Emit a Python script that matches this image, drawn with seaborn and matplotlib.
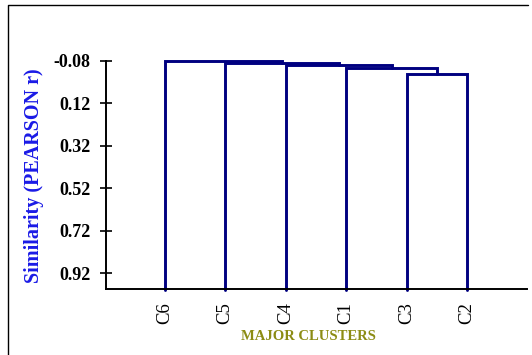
import numpy as np
import pandas as pd
import matplotlib
matplotlib.use("Agg")
import matplotlib.pyplot as plt
from matplotlib.lines import Line2D
import seaborn as sns

# Leaf order along the x axis and the successive merges (left child, right child, height)
leaves = ["C6", "C5", "C4", "C1", "C3", "C2"]
merge_left = ["C3", "C1", "C4", "C5", "C6"]
merge_right = ["C2", "C3+C2", "C1+C3+C2", "C4+C1+C3+C2", "C5+C4+C1+C3+C2"]
merge_height = [-0.016, -0.047, -0.060, -0.068, -0.078]
y_ticks = [-0.08, 0.12, 0.32, 0.52, 0.72, 0.92]

sns.set_theme(style="white")
plt.rcParams["font.family"] = ["Liberation Serif", "DejaVu Serif"]

# Build the U-shaped links of the dendrogram
node_x = {name: i + 1 for i, name in enumerate(leaves)}
node_y = {name: 1.0 for name in leaves}
rows = []
for k, (a, b, h) in enumerate(zip(merge_left, merge_right, merge_height)):
    name = a + "+" + b
    xa, xb = node_x[a], node_x[b]
    ya, yb = node_y[a], node_y[b]
    for order, (px, py) in enumerate([(xa, ya), (xa, h), (xb, h), (xb, yb)]):
        rows.append({"link": k, "order": order, "x": px, "y": py})
    node_x[name] = (xa + xb) / 2
    node_y[name] = h
links = pd.DataFrame(rows)

fig = plt.figure(figsize=(5.32, 3.55), dpi=100)
ax = fig.add_axes([106 / 532, 1 - 289.3 / 355, (527 - 106) / 532, (289.3 - 60.7) / 355])

sns.lineplot(data=links, x="x", y="y", units="link", estimator=None, sort=False,
             color="#000080", linewidth=2.1, ax=ax, legend=False)
for line in ax.lines:
    line.set_clip_on(False)
    line.set_solid_joinstyle("miter")

ax.set_xlim(0.03, 6.99)
ax.set_ylim(0.995, -0.08)
ax.set_yticks(y_ticks)
ax.set_yticklabels([f"{t:.2f}" for t in y_ticks], fontsize=13, fontweight="bold",
                   color="black")
ax.set_xticks(range(1, len(leaves) + 1))
ax.set_xticklabels(leaves, rotation=90, fontsize=13.5, color="black")
ax.tick_params(axis="y", left=True, direction="inout", length=8, width=1.2,
               colors="black", pad=7)
ax.tick_params(axis="x", bottom=False, length=0, pad=9)
ax.set_xlabel("")
ax.set_ylabel("")
for side in ["top", "right"]:
    ax.spines[side].set_visible(False)
for side in ["left", "bottom"]:
    ax.spines[side].set_color("black")
    ax.spines[side].set_linewidth(1.4)

fig.text(308 / 532, 1 - 337 / 355, "MAJOR CLUSTERS", ha="center", va="center",
         fontsize=10.5, fontweight="bold", color="#8c8c14")
fig.text(34 / 532, 1 - 176 / 355, "Similarity (PEARSON r)", ha="center", va="center",
         rotation=90, fontsize=14.5, fontweight="bold", color="#1a1ae6")

# Frame: left and top edges
x0, y0, x1 = 7.5 / 532, 1 - 4.5 / 355, 527.5 / 532
fig.add_artist(Line2D([x0, x0, x1], [0, y0, y0], transform=fig.transFigure,
                      color="black", linewidth=1.0))

fig.savefig("out.png", dpi=100)
